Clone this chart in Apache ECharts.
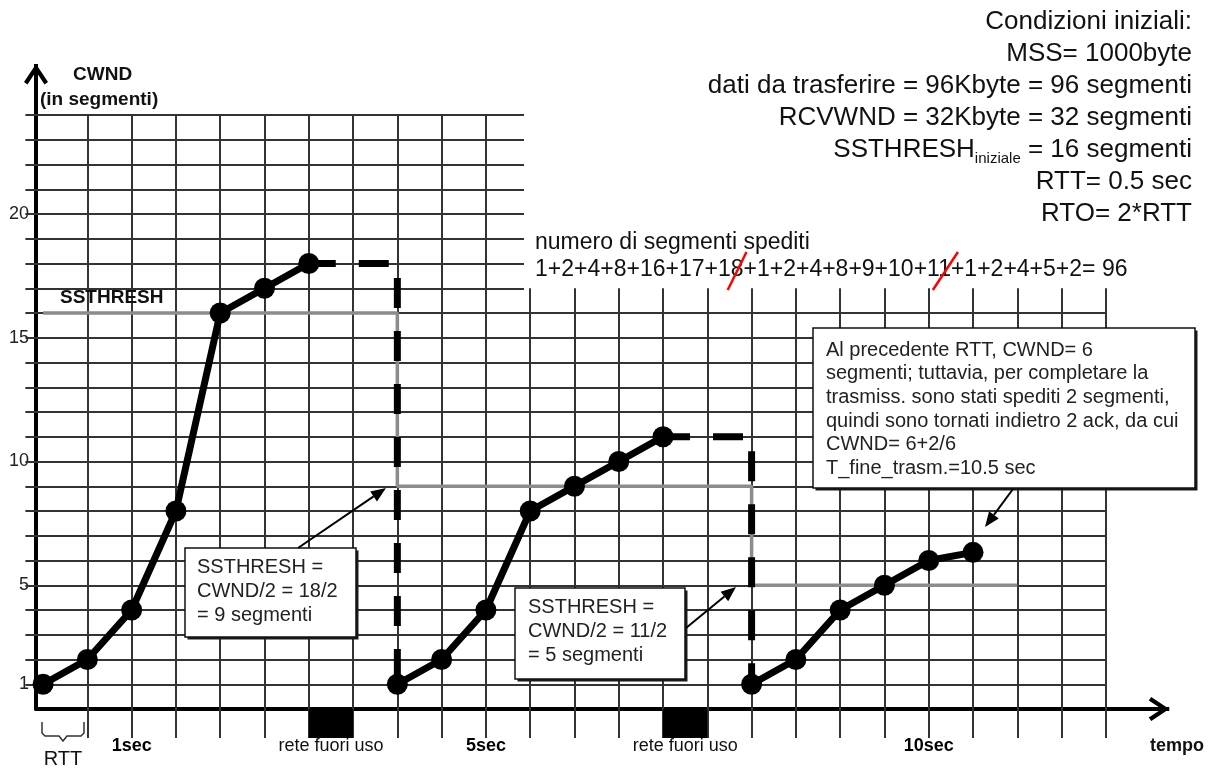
<!DOCTYPE html>
<html><head><meta charset="utf-8">
<script src="https://cdn.jsdelivr.net/npm/echarts@6/dist/echarts.min.js"></script>
<style>html,body{margin:0;padding:0;background:#fff}#c{width:1214px;height:769px}</style>
</head><body><div id="c"></div>
<script>
// ---------- data ----------
const cwnd1 = [[0,1],[1,2],[2,4],[3,8],[4,16],[5,17],[6,18]];
const cwnd2 = [[8,1],[9,2],[10,4],[11,8],[12,9],[13,10],[14,11]];
const cwnd3 = [[16,1],[17,2],[18,4],[19,5],[20,6],[21,6.33]];
const timeout1 = [[6,18],[8,18],[8,1]];
const timeout2 = [[14,11],[16,11],[16,1]];
const ssthresh = [[0,16],[8,16],[8,9],[16,9],[16,5],[22,5]];
const outages = [[6,7],[14,15]];
const yTickLabels = [1,5,10,15,20];
const timeLabels = [[2,'1sec'],[10,'5sec'],[20,'10sec']];
const outageLabels = [[6.5,'rete fuori uso'],[14.5,'rete fuori uso']];
const initialConditions = [
  'Condizioni iniziali:',
  'MSS= 1000byte',
  'dati da trasferire = 96Kbyte = 96 segmenti',
  'RCVWND = 32Kbyte = 32 segmenti',
  '{a|SSTHRESH}{b|iniziale}{a| = 16 segmenti}',
  'RTT= 0.5 sec',
  'RTO= 2*RTT'
];
const segmentsTitle = 'numero di segmenti spediti';
const segmentsSum = '1+2+4+8+16+17+18+1+2+4+8+9+10+11+1+2+4+5+2= 96';
const box1Lines = ['SSTHRESH =', 'CWND/2 = 18/2', '= 9 segmenti'];
const box2Lines = ['SSTHRESH =', 'CWND/2 = 11/2', '= 5 segmenti'];
const box3Lines = [
  'Al precedente RTT, CWND= 6',
  'segmenti; tuttavia, per completare la',
  'trasmiss. sono stati spediti 2 segmenti,',
  'quindi sono tornati indietro 2 ack, da cui',
  'CWND= 6+2/6',
  'T_fine_trasm.=10.5 sec'
];

// ---------- layout ----------
const FONT = 'Liberation Sans, Arial, sans-serif';
const X_MIN = -0.16, X_MAX = 25.2, Y_MIN = 0, Y_MAX = 25.65;
const BELOW = -1.17, LABEL_Y = -1.5;

const gridSegs = [];
for (let x = 1; x <= 24; x++) gridSegs.push({coords: [[x, BELOW], [x, x <= 10 ? 24 : 17]]});
for (let y = 1; y <= 24; y++) gridSegs.push({coords: [[-0.4, y], [y <= 16 ? 24 : 10.86, y]]});

const arrowPath = 'path://M12 0L24 18L20.5 20.5L12 7.5L3.5 20.5L0 18Z M10 0L14 0L14 11L10 11Z';

function arrow(x1, y1, x2, y2) {
  const a = Math.atan2(y2 - y1, x2 - x1), L = 15, W = 6;
  const bx = x2 - L * Math.cos(a), by = y2 - L * Math.sin(a);
  return [
    {type: 'line', z: 100, shape: {x1, y1, x2: bx, y2: by}, style: {stroke: '#000', lineWidth: 2}},
    {type: 'polygon', z: 100, shape: {points: [[x2, y2], [bx + W * Math.sin(a), by - W * Math.cos(a)], [bx - W * Math.sin(a), by + W * Math.cos(a)]]}, style: {fill: '#000'}}
  ];
}
function box(x, y, w, h, tx, ty, lines, lh) {
  return [
    {type: 'rect', z: 99, shape: {x: x + 2.5, y: y + 2.5, width: w, height: h}, style: {fill: '#1a1a1a'}},
    {type: 'rect', z: 100, shape: {x, y, width: w, height: h},
     style: {fill: '#fff', stroke: '#111', lineWidth: 1.5}},
    {type: 'text', z: 101, x: tx, y: ty,
     style: {text: lines.join('\n'), font: '20px ' + FONT, lineHeight: lh, fill: '#222', align: 'left', verticalAlign: 'top'}}
  ];
}

// red slashes positions from text measurement
const SUM_X = 535, SUM_Y = 270;
const mctx = document.createElement('canvas').getContext('2d');
mctx.font = '23px "Liberation Sans"';
function glyphRange(idx) {
  return [SUM_X + mctx.measureText(segmentsSum.slice(0, idx)).width,
          SUM_X + mctx.measureText(segmentsSum.slice(0, idx + 1)).width];
}
const g8 = glyphRange(segmentsSum.indexOf('+18+') + 2);
const g11 = glyphRange(segmentsSum.indexOf('+11+') + 2);

const graphics = [];
initialConditions.forEach((t, i) => {
  graphics.push({type: 'text', z: 100, x: 1192, y: 22 + i * 32,
    style: {text: t, font: '26px ' + FONT, fill: '#111', align: 'right', verticalAlign: 'middle',
      rich: {a: {fontSize: 26, fontFamily: FONT, fill: '#111', lineHeight: 32},
             b: {fontSize: 15, fontFamily: FONT, fill: '#111', lineHeight: 14, verticalAlign: 'bottom'}}}});
});
graphics.push(
  {type: 'text', z: 100, x: SUM_X, y: 243, style: {text: segmentsTitle, font: '23px ' + FONT, fill: '#111', align: 'left', verticalAlign: 'middle'}},
  {type: 'text', z: 100, x: SUM_X, y: SUM_Y, style: {text: segmentsSum, font: '23px ' + FONT, fill: '#111', align: 'left', verticalAlign: 'middle'}},
  {type: 'line', z: 102, shape: {x1: g8[0] - 3, y1: 290, x2: g8[1] + 3, y2: 252}, style: {stroke: '#f00', lineWidth: 2.5}},
  {type: 'line', z: 102, shape: {x1: g11[0] - 7, y1: 290, x2: g11[1] + 7, y2: 252}, style: {stroke: '#f00', lineWidth: 2.5}},
  {type: 'text', z: 100, x: 73, y: 75, style: {text: 'CWND', font: 'bold 19px ' + FONT, fill: '#111', align: 'left', verticalAlign: 'middle'}},
  {type: 'text', z: 100, x: 40, y: 100, style: {text: '(in segmenti)', font: 'bold 19px ' + FONT, fill: '#111', align: 'left', verticalAlign: 'middle'}},
  {type: 'text', z: 100, x: 60, y: 298, style: {text: 'SSTHRESH', font: 'bold 19px ' + FONT, fill: '#111', align: 'left', verticalAlign: 'middle'}},
  {type: 'text', z: 100, x: 1177, y: 746, style: {text: 'tempo', font: 'bold 18px ' + FONT, fill: '#111', align: 'center', verticalAlign: 'middle'}},
  {type: 'text', z: 100, x: 63, y: 759, style: {text: 'RTT', font: '20px ' + FONT, fill: '#111', align: 'center', verticalAlign: 'middle'}},
  {type: 'polyline', z: 100, shape: {points: [[42,722],[42,733],[45,736],[59,736],[63,741],[67,736],[81,736],[84,733],[84,722]]}, style: {stroke: '#333', lineWidth: 1.5, fill: null}}
);
graphics.push(...box(185, 548, 171, 89, 197, 555, box1Lines, 24));
graphics.push(...box(515, 588, 170, 91, 528, 595, box2Lines, 24));
graphics.push(...box(813, 328, 382, 160, 826, 338.5, box3Lines, 23.6));
graphics.push(...arrow(298, 548, 386, 488));
graphics.push(...arrow(686, 628, 736, 587));
graphics.push(...arrow(1013, 489, 985, 527));

const cwndStyle = {type: 'line', symbol: 'circle', symbolSize: 21, itemStyle: {color: '#000'}, lineStyle: {color: '#000', width: 7}, z: 5, silent: true};
const dashStyle = {type: 'line', symbol: 'none', lineStyle: {color: '#000', width: 7, type: [30, 23], dashOffset: 3, cap: 'butt'}, z: 4, silent: true};
const labelBase = {type: 'scatter', symbol: 'circle', symbolSize: 0, itemStyle: {color: '#000', opacity: 1}, clip: false, silent: true, z: 6};

const chart = echarts.init(document.getElementById('c'));
chart.setOption({
  animation: false,
  backgroundColor: '#fff',
  grid: {left: 36, right: 55, top: 74.2, bottom: 60},
  xAxis: {type: 'value', min: X_MIN, max: X_MAX,
    axisLine: {show: true, onZero: true, lineStyle: {color: '#000', width: 4}, symbol: ['none', arrowPath], symbolSize: [24, 22]},
    axisTick: {show: false}, axisLabel: {show: false}, splitLine: {show: false}},
  yAxis: {type: 'value', min: Y_MIN, max: Y_MAX, interval: 1,
    axisLine: {show: true, onZero: false, lineStyle: {color: '#000', width: 4}, symbol: ['none', arrowPath], symbolSize: [24, 22]},
    axisTick: {show: false}, splitLine: {show: false},
    axisLabel: {margin: 7, color: '#222', fontSize: 18, fontFamily: FONT,
      formatter: v => yTickLabels.includes(v) ? String(v) : ''}},
  graphic: graphics,
  series: [
    {type: 'lines', coordinateSystem: 'cartesian2d', data: gridSegs, clip: false, silent: true, z: 1,
     lineStyle: {color: '#333', width: 2, opacity: 1}},
    {type: 'line', data: ssthresh, symbol: 'none', lineStyle: {color: '#8c8c8c', width: 3.5}, z: 3, silent: true},
    Object.assign({data: timeout1}, dashStyle),
    Object.assign({data: timeout2}, dashStyle),
    Object.assign({data: cwnd1}, cwndStyle),
    Object.assign({data: cwnd2}, cwndStyle),
    Object.assign({data: cwnd3}, cwndStyle),
    {type: 'custom', data: outages, encode: {x: [0, 1]}, clip: false, silent: true, z: 6,
     renderItem: (params, api) => {
       const p1 = api.coord([api.value(0), 0]);
       const p2 = api.coord([api.value(1), BELOW]);
       return {type: 'rect', shape: {x: p1[0], y: p1[1], width: p2[0] - p1[0], height: p2[1] - p1[1]}, style: {fill: '#000'}};
     }},
    Object.assign({data: timeLabels.map(([x, t]) => ({value: [x, LABEL_Y], name: t})),
      label: {show: true, position: 'inside', formatter: '{b}', color: '#000', opacity: 1, textBorderWidth: 0, fontSize: 18, fontWeight: 'bold', fontFamily: FONT}}, labelBase),
    Object.assign({data: outageLabels.map(([x, t]) => ({value: [x, LABEL_Y], name: t})),
      label: {show: true, position: 'inside', formatter: '{b}', color: '#111', opacity: 1, textBorderWidth: 0, fontSize: 18, fontFamily: FONT}}, labelBase)
  ]
});
</script></body></html>
